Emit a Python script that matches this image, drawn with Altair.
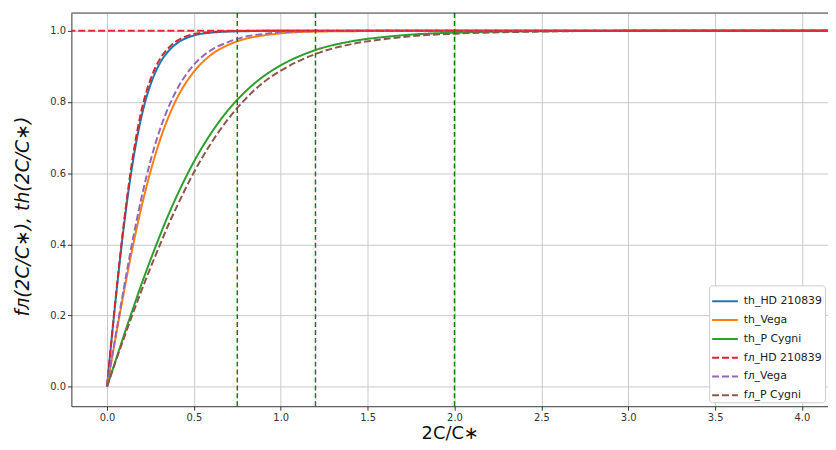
import altair as alt
import pandas as pd

# x positions (2C/C*) at which the curves were read
x_vals = [0, 0.05, 0.1, 0.15, 0.2, 0.25, 0.3, 0.35, 0.4, 0.5, 0.6, 0.7, 0.8, 0.9,
          1.0, 1.2, 1.4, 1.6, 1.8, 2.0, 2.5, 3.0, 3.5, 4.2]

th_hd = [0, .245, .462, .635, .762, .848, .905, .941, .964, .987, .995, .998, .999, 1.0,
         1.0, 1.0, 1.0, 1.0, 1.0, 1.0, 1.0, 1.0, 1.0, 1.0]
th_vega = [0, .139, .273, .397, .508, .604, .686, .753, .808, .885, .933, .961, .978, .987,
           .993, .998, .999, 1.0, 1.0, 1.0, 1.0, 1.0, 1.0, 1.0]
th_pcyg = [0, .074, .148, .220, .290, .356, .419, .479, .534, .632, .713, .779, .831, .872,
           .903, .946, .970, .983, .991, .995, .999, 1.0, 1.0, 1.0]
f_hd = [0, .250, .472, .650, .780, .863, .917, .950, .971, .991, .997, .999, 1.0, 1.0,
        1.0, 1.0, 1.0, 1.0, 1.0, 1.0, 1.0, 1.0, 1.0, 1.0]
f_vega = [0, .144, .285, .417, .534, .634, .716, .781, .833, .905, .946, .969, .984, .991,
          .996, .999, 1.0, 1.0, 1.0, 1.0, 1.0, 1.0, 1.0, 1.0]
f_pcyg = [0, .071, .140, .207, .272, .334, .393, .451, .504, .602, .685, .754, .810, .855,
          .888, .935, .962, .977, .987, .992, .998, 1.0, 1.0, 1.0]

series_names = ["th_HD 210839", "th_Vega", "th_P Cygni",
                "fл_HD 210839", "fл_Vega", "fл_P Cygni"]
series_colors = ["#1f77b4", "#ff7f0e", "#2ca02c", "#d62728", "#9467bd", "#8c564b"]
series_dash = [[1, 0], [1, 0], [1, 0], [7, 3], [7, 3], [7, 3]]

vlines = [0.75, 1.2, 2.0]
hlines = [1.0]

x_ticks = [0, 0.5, 1.0, 1.5, 2.0, 2.5, 3.0, 3.5, 4.0]
y_ticks = [0, 0.2, 0.4, 0.6, 0.8, 1.0]

rows = []
for name, ys in zip(series_names, [th_hd, th_vega, th_pcyg, f_hd, f_vega, f_pcyg]):
    for i, (xv, yv) in enumerate(zip(x_vals, ys)):
        rows.append({"series": name, "x": xv, "y": yv, "order": i})
df = pd.DataFrame(rows)

xscale = alt.Scale(domain=[-0.205, 4.15], nice=False, zero=False)
yscale = alt.Scale(domain=[-0.055, 1.05], nice=False, zero=False)

legend_cfg = dict(
    title=None, orient="none", legendX=644, legendY=275,
    fillColor="white", strokeColor="#cccccc", cornerRadius=3, padding=2,
    labelFontSize=11, labelFont="DejaVu Sans", labelColor="#222222",
    symbolType="stroke", symbolStrokeWidth=2, symbolSize=676,
    rowPadding=-1, labelOffset=5,
)

lines = alt.Chart(df).mark_line(strokeWidth=2, clip=True, interpolate="monotone").encode(
    x=alt.X("x:Q", scale=xscale,
            axis=alt.Axis(values=x_ticks, format=".1f", title="2C/C∗",
                          titleFontSize=18, titleFontStyle="normal",
                          titleBaseline="alphabetic", titleY=33)),
    y=alt.Y("y:Q", scale=yscale,
            axis=alt.Axis(values=y_ticks, format=".1f", title="fл(2C/C∗), th(2C/C∗)",
                          titleFontSize=19, titleBaseline="middle",
                          titleX=-49, titleY=205, titleAngle=270)),
    color=alt.Color("series:N", scale=alt.Scale(domain=series_names, range=series_colors),
                    legend=alt.Legend(**legend_cfg)),
    strokeDash=alt.StrokeDash("series:N", scale=alt.Scale(domain=series_names, range=series_dash),
                              legend=alt.Legend(**legend_cfg)),
    order="order:Q",
)

vrule = alt.Chart(pd.DataFrame({"x": vlines})).mark_rule(
    color="#008000", strokeDash=[5, 3], strokeWidth=1.5
).encode(x=alt.X("x:Q", scale=xscale))

hrule = alt.Chart(pd.DataFrame({"y": hlines})).mark_rule(
    color="#e8282e", strokeDash=[7, 3], strokeWidth=2
).encode(y=alt.Y("y:Q", scale=yscale))

top_frame = alt.Chart(pd.DataFrame({"a": [0]})).mark_rule(
    color="#333333", strokeWidth=1
).encode(x=alt.value(0), x2=alt.value(764), y=alt.value(0))

chart = alt.layer(lines, vrule, hrule, top_frame).properties(
    width=764, height=397,
    autosize=alt.AutoSizeParams(type="none"),
    padding={"left": 64, "top": 3, "right": 0, "bottom": 34},
).configure_view(stroke=None).configure_axis(
    grid=True, gridColor="#c8c8c8", gridWidth=1,
    domainColor="#333333", tickColor="#333333", tickSize=4,
    labelColor="#333333", labelFontSize=10, labelFont="DejaVu Sans",
    titleFont="DejaVu Sans", titleFontWeight="normal",
    titleFontStyle="italic", titleColor="#111111",
)

chart.save("out.html", embed_options={"renderer": "svg", "actions": False})
